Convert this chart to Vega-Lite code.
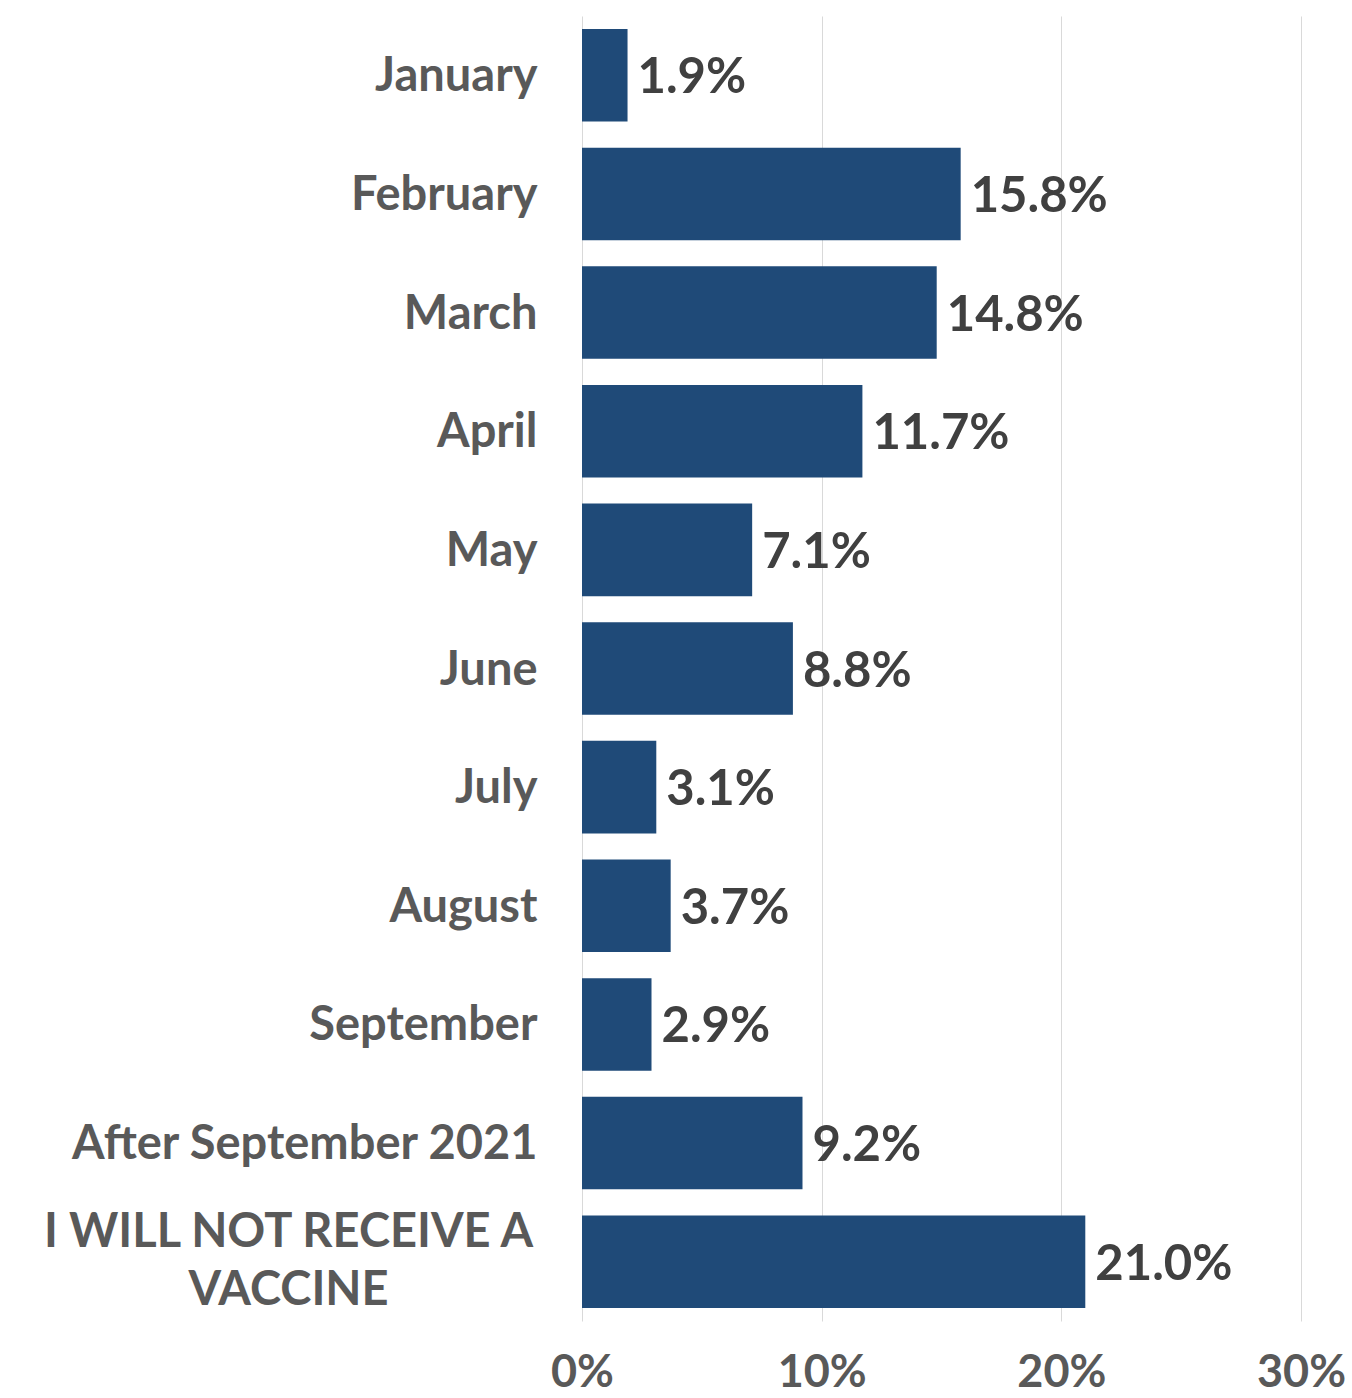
{
  "$schema": "https://vega.github.io/schema/vega-lite/v6.json",
  "autosize": "none",
  "width": 719,
  "height": 1305,
  "padding": {"left": 582, "top": 16, "right": 51, "bottom": 77},
  "background": "white",
  "config": {"view": {"stroke": null}},
  "data": {
    "values": [
      {"category": "January", "share": 0.019},
      {"category": "February", "share": 0.158},
      {"category": "March", "share": 0.148},
      {"category": "April", "share": 0.117},
      {"category": "May", "share": 0.071},
      {"category": "June", "share": 0.088},
      {"category": "July", "share": 0.031},
      {"category": "August", "share": 0.037},
      {"category": "September", "share": 0.029},
      {"category": "After September 2021", "share": 0.092},
      {"category": "I WILL NOT RECEIVE A VACCINE", "share": 0.21}
    ]
  },
  "encoding": {
    "y": {
      "field": "category",
      "type": "nominal",
      "sort": null,
      "scale": {"paddingInner": 0.22, "paddingOuter": 0.11},
      "axis": {
        "title": null,
        "domain": false,
        "ticks": false,
        "labelFont": "Lato",
        "labelFontWeight": "bold",
        "labelFontSize": 47,
        "labelColor": "#595959",
        "labelLimit": 600,
        "labelLineHeight": 58,
        "labelAlign": {"condition": {"test": "datum.value == 'I WILL NOT RECEIVE A VACCINE'", "value": "center"}, "value": "right"},
        "labelPadding": {"condition": {"test": "datum.value == 'I WILL NOT RECEIVE A VACCINE'", "value": 294}, "value": 45},
        "labelOffset": {"condition": {"test": "datum.value == 'I WILL NOT RECEIVE A VACCINE'", "value": -29}, "value": 2},
        "labelExpr": "datum.value == 'I WILL NOT RECEIVE A VACCINE' ? ['I WILL NOT RECEIVE A', 'VACCINE'] : datum.value"
      }
    }
  },
  "layer": [
    {
      "mark": {"type": "bar", "color": "#1f4a78"},
      "encoding": {
        "x": {
          "field": "share",
          "type": "quantitative",
          "scale": {"domain": [0, 0.3], "nice": false},
          "axis": {
            "title": null,
            "format": ".0%",
            "values": [0, 0.1, 0.2, 0.3],
            "domain": false,
            "ticks": false,
            "grid": true,
            "gridColor": "#d9d9d9",
            "gridWidth": 1,
            "labelFont": "Lato",
            "labelFontWeight": "bold",
            "labelFontSize": 45,
            "labelColor": "#595959",
            "labelPadding": 29,
            "labelFlush": false
          }
        }
      }
    },
    {
      "mark": {"type": "text", "align": "left", "baseline": "middle", "dx": 10, "dy": 3, "font": "Lato", "fontWeight": "bold", "fontSize": 49, "color": "#404040"},
      "encoding": {
        "x": {"field": "share", "type": "quantitative"},
        "text": {"field": "share", "type": "quantitative", "format": ".1%"}
      }
    }
  ]
}
